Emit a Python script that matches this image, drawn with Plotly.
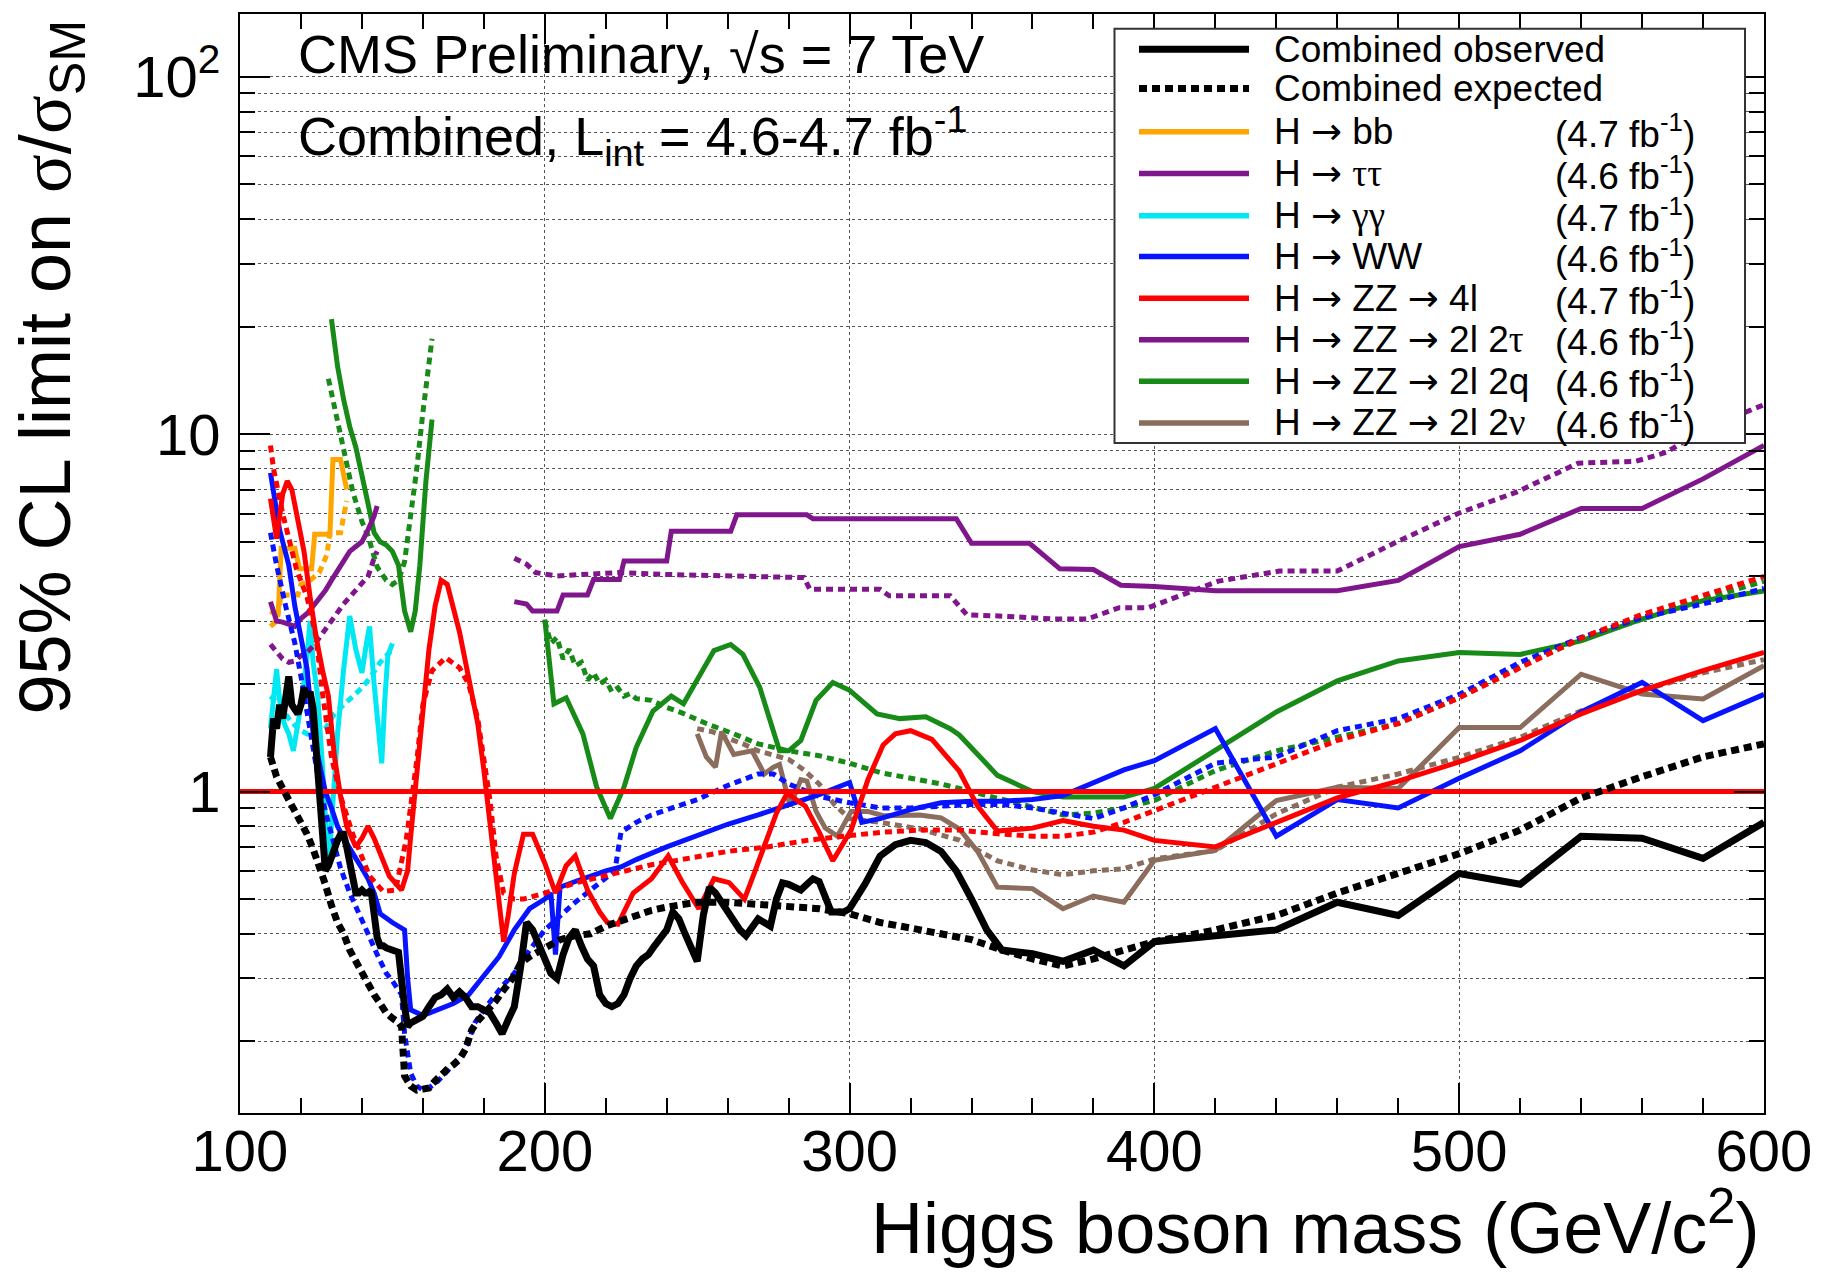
import math
import plotly.graph_objects as go

# ---------------- data ----------------
comb_obs_x = [110, 111, 112, 113, 114, 115, 116, 117, 118, 119, 120, 121, 122, 123, 124, 125, 126, 127, 128, 129,
              130, 131, 132, 133, 134, 135, 136, 137, 138, 139, 140, 141, 142, 143, 144, 145, 146, 147, 148, 150,
              152, 154, 155, 156, 158, 160, 162, 164, 166, 168, 170, 172, 174, 176, 178, 180, 182, 184, 186, 188,
              190, 192, 194, 196, 198, 200, 202, 204, 206, 208, 210, 212, 214, 216, 218, 220, 222, 224, 226, 228,
              230, 232, 234, 236, 238, 240, 242, 244, 246, 248, 250, 252, 254, 256, 258, 260, 262, 264, 266, 268,
              270, 272, 274, 276, 278, 280, 282, 284, 286, 288, 290, 292, 294, 296, 298, 300, 305, 310, 315, 320,
              325, 330, 335, 340, 345, 350, 355, 360, 370, 380, 390, 400, 420, 440, 460, 480, 500, 520, 540, 560,
              580, 600]
comb_obs_y = [1.25, 1.6, 1.5, 1.75, 1.6, 1.8, 2.1, 1.75, 1.7, 1.65, 1.75, 1.95, 1.85, 1.9, 1.7, 1.3, 0.95, 0.75, 0.6, 0.62,
              0.66, 0.7, 0.73, 0.76, 0.76, 0.7, 0.63, 0.57, 0.52, 0.52, 0.53, 0.52, 0.52, 0.53, 0.46, 0.39, 0.37, 0.37, 0.365, 0.36,
              0.355, 0.25, 0.22, 0.225, 0.23, 0.235, 0.25, 0.265, 0.27, 0.28, 0.265, 0.275, 0.265, 0.25, 0.25, 0.245, 0.24, 0.225, 0.21, 0.23,
              0.25, 0.32, 0.43, 0.41, 0.37, 0.34, 0.31, 0.3, 0.35, 0.39, 0.41, 0.37, 0.34, 0.325, 0.27, 0.255, 0.25, 0.255, 0.27, 0.3,
              0.325, 0.34, 0.35, 0.37, 0.39, 0.41, 0.46, 0.44, 0.4, 0.37, 0.335, 0.45, 0.54, 0.52, 0.49, 0.47, 0.44, 0.41, 0.395, 0.42,
              0.44, 0.43, 0.42, 0.5, 0.555, 0.55, 0.54, 0.53, 0.55, 0.57, 0.56, 0.5, 0.46, 0.46, 0.46, 0.47, 0.55, 0.66, 0.71, 0.73,
              0.72, 0.68, 0.6, 0.5, 0.41, 0.36, 0.355, 0.352, 0.335, 0.36, 0.325, 0.38, 0.395, 0.41, 0.49, 0.45, 0.59, 0.55, 0.75, 0.74,
              0.65, 0.82]

comb_exp_x = [110, 112, 114, 116, 118, 120, 122, 124, 126, 128, 130, 132, 134, 136, 138, 140, 142, 144, 146, 148,
              150, 152, 153, 154, 156, 158, 160, 162, 164, 166, 168, 170, 172, 174, 176, 178, 180, 182, 184, 186,
              188, 190, 192, 195, 200, 205, 210, 215, 220, 225, 230, 235, 240, 250, 260, 270, 280, 290, 300, 310,
              320, 330, 340, 350, 360, 370, 380, 390, 400, 420, 440, 460, 480, 500, 520, 540, 560, 580, 600]
comb_exp_y = [1.25, 1.1, 1.02, 0.95, 0.88, 0.82, 0.76, 0.69, 0.62, 0.55, 0.48, 0.43, 0.4, 0.36, 0.335, 0.31, 0.29, 0.27, 0.255, 0.24,
              0.232, 0.226, 0.22, 0.16, 0.15, 0.146, 0.147, 0.148, 0.155, 0.162, 0.167, 0.172, 0.178, 0.19, 0.215, 0.228, 0.237, 0.248, 0.26, 0.275,
              0.29, 0.305, 0.33, 0.345, 0.365, 0.385, 0.395, 0.4, 0.42, 0.435, 0.45, 0.465, 0.475, 0.49, 0.49, 0.485, 0.48, 0.47, 0.455, 0.43,
              0.415, 0.4, 0.385, 0.36, 0.34, 0.325, 0.34, 0.36, 0.38, 0.41, 0.45, 0.52, 0.59, 0.67, 0.78, 0.96, 1.1, 1.25, 1.36]

bb_obs_x = [110, 112.5, 113.5, 118, 119.5, 123.5, 124.5, 129.5, 130.5, 133, 135]
bb_obs_y = [3.2, 3.1, 4.8, 4.8, 4.2, 4.2, 5.25, 5.25, 8.5, 8.5, 7.0]
bb_exp_x = [110, 112, 113.5, 119, 120, 123, 126, 128.5, 129.5, 133, 134.5, 135]
bb_exp_y = [2.9, 3.0, 3.55, 3.55, 3.8, 3.9, 4.1, 4.6, 5.3, 5.3, 6.2, 6.5]

tautau_obs_x = [110, 111, 112, 114, 116, 118, 120, 122, 124, 126, 128, 130, 132, 134, 136, 138, 140, 142, 144, 145]
tautau_obs_y = [3.4, 3.15, 3.0, 2.98, 2.95, 2.9, 3.05, 3.15, 3.3, 3.45, 3.65, 3.9, 4.15, 4.45, 4.7, 4.85, 5.0, 5.4, 5.9, 6.3]
tautau_exp_x = [110, 112, 114, 116, 118, 120, 122, 124, 126, 128, 130, 132, 134, 136, 138, 140, 142, 144, 145]
tautau_exp_y = [2.58, 2.45, 2.35, 2.3, 2.32, 2.4, 2.45, 2.55, 2.7, 2.85, 3.0, 3.2, 3.35, 3.5, 3.65, 3.8, 4.0, 4.5, 4.7]

gg_obs_x = [110, 111, 112, 113, 114.5, 116, 117.5, 119, 120.5, 122, 123, 124, 125.5, 127, 128, 129.3, 130.5, 132, 134,
            136, 138, 140, 141.5, 142.5, 144, 146.5, 147.5, 148.5, 150]
gg_obs_y = [1.5, 1.9, 2.2, 1.8, 1.55, 1.45, 1.3, 1.55, 1.85, 2.4, 3.0, 2.3, 1.85, 1.2, 0.85, 0.66, 0.95, 1.45, 2.2,
            3.1, 2.5, 2.15, 2.6, 2.9, 2.0, 1.2, 1.8, 2.4, 2.6]
gg_exp_x = [110, 113, 116, 119, 122, 125, 128, 131, 134, 137, 140, 143, 146, 150]
gg_exp_y = [1.85, 1.75, 1.6, 1.5, 1.45, 1.45, 1.5, 1.65, 1.75, 1.85, 1.95, 2.1, 2.3, 2.5]

ww_obs_x = [110, 113, 116, 118, 120, 122, 124, 126, 128, 130, 132, 134, 136, 138, 140, 142, 144, 146, 150, 154,
            155, 156, 160, 165, 170, 175, 180, 185, 190, 195, 200, 202, 203.5, 205, 210, 215, 220, 225, 230, 240,
            250, 260, 270, 280, 290, 300, 304, 310, 320, 330, 340, 350, 360, 370, 380, 390, 400, 420, 440, 460,
            480, 500, 520, 540, 560, 580, 600]
ww_obs_y = [7.8, 5.4, 4.3, 3.3, 2.7, 2.2, 1.45, 1.2, 1.0, 0.9, 0.8, 0.74, 0.69, 0.65, 0.61, 0.57, 0.52, 0.455, 0.43, 0.41,
            0.3, 0.245, 0.236, 0.245, 0.255, 0.27, 0.305, 0.345, 0.41, 0.47, 0.5, 0.52, 0.35, 0.54, 0.56, 0.58, 0.6, 0.615, 0.645, 0.7,
            0.75, 0.81, 0.86, 0.92, 0.98, 1.06, 0.82, 0.84, 0.89, 0.93, 0.94, 0.94, 0.95, 0.975, 1.06, 1.15, 1.22, 1.5, 0.75, 0.95,
            0.9, 1.09, 1.3, 1.67, 2.02, 1.58, 1.87]
ww_exp_x = [110, 112, 115, 118, 120, 122, 124, 126, 128, 130, 133, 136, 139, 142, 145, 148, 150, 152, 153, 154,
            155, 156, 158, 160, 162, 165, 168, 170, 173, 175, 177, 180, 183, 186, 190, 195, 200, 205, 210, 215,
            220, 223, 225, 230, 235, 240, 250, 260, 270, 275, 280, 290, 300, 310, 320, 330, 340, 350, 360, 370,
            380, 390, 400, 420, 440, 460, 480, 500, 520, 540, 560, 580, 600]
ww_exp_y = [5.3, 4.3, 3.3, 2.6, 2.1, 1.65, 1.3, 1.05, 0.88, 0.75, 0.61, 0.52, 0.46, 0.4, 0.35, 0.31, 0.295, 0.28, 0.27, 0.21,
            0.18, 0.163, 0.15, 0.146, 0.148, 0.155, 0.165, 0.172, 0.185, 0.2, 0.225, 0.245, 0.265, 0.285, 0.31, 0.36, 0.41, 0.45, 0.49, 0.53,
            0.57, 0.6, 0.77, 0.82, 0.86, 0.89, 0.95, 1.04, 1.12, 1.12, 1.05, 0.97, 0.93, 0.9, 0.9, 0.91, 0.92, 0.92, 0.9, 0.87,
            0.84, 0.9, 0.98, 1.2, 1.25, 1.48, 1.6, 1.87, 2.3, 2.7, 3.07, 3.35, 3.7]

zz4l_obs_x = [110, 112, 114, 115.5, 117, 119, 121, 123, 125, 127, 129, 131, 133, 135, 138, 140, 142, 144, 146, 149,
              153, 155, 156, 158, 160, 162, 164, 166, 168, 170, 172, 174, 176, 178, 180, 182, 184, 186.5, 188, 190,
              193, 196, 200, 203.5, 207, 210, 214, 218, 220.5, 224, 229, 235, 240.5, 245, 250.5, 255.5, 260.5, 265.5, 269, 273,
              276, 279.5, 285.5, 290, 294.5, 300.5, 306, 311, 315, 320, 327, 336, 342, 348.5, 360, 370, 380, 390, 400, 420,
              440, 460, 480, 500, 520, 540, 560, 580, 600]
zz4l_obs_y = [6.6, 5.1, 6.8, 7.4, 7.0, 5.8, 4.7, 3.5, 2.7, 2.2, 1.85, 1.25, 0.97, 0.8, 0.7, 0.74, 0.8, 0.74, 0.67, 0.58,
              0.53, 0.6, 0.75, 1.15, 1.75, 2.5, 3.3, 3.9, 3.8, 3.3, 2.8, 2.3, 1.9, 1.55, 1.15, 0.82, 0.6, 0.38, 0.45, 0.59,
              0.76, 0.76, 0.63, 0.52, 0.62, 0.66, 0.53, 0.46, 0.43, 0.425, 0.52, 0.57, 0.66, 0.56, 0.47, 0.57, 0.556, 0.5, 0.6, 0.74,
              0.87, 0.99, 0.91, 0.77, 0.64, 0.78, 1.08, 1.35, 1.45, 1.48, 1.4, 1.14, 0.91, 0.775, 0.79, 0.83, 0.8, 0.78, 0.73, 0.7,
              0.82, 0.96, 1.07, 1.21, 1.39, 1.65, 1.92, 2.18, 2.45]
zz4l_exp_x = [110, 111, 114, 118.5, 122, 125, 127, 130, 133, 137, 142.5, 147, 151, 154.5, 158, 160, 163, 167.5, 172, 175,
              178, 180, 182, 184, 186.5, 190, 193, 200, 210, 223, 235, 248, 260, 273, 286, 298, 311, 323, 336, 350,
              360, 370, 380, 390, 400, 420, 440, 460, 480, 500, 520, 540, 560, 580, 600]
zz4l_exp_y = [9.3, 8.0, 6.0, 4.2, 3.5, 2.7, 1.9, 1.25, 0.97, 0.76, 0.58, 0.525, 0.53, 0.73, 1.22, 1.75, 2.18, 2.37, 2.22, 2.0,
              1.6, 1.25, 0.95, 0.66, 0.52, 0.5, 0.5, 0.52, 0.555, 0.59, 0.624, 0.652, 0.68, 0.7, 0.73, 0.75, 0.77, 0.78, 0.78, 0.76,
              0.75, 0.75, 0.77, 0.82, 0.885, 1.03, 1.195, 1.39, 1.55, 1.83, 2.22, 2.69, 3.13, 3.55, 4.0]

zz2l2tau_obs_x = [190, 194, 196, 204, 206, 214, 216, 224.5, 226, 240, 241.5, 261, 263, 286, 288, 335, 340, 359, 369, 380,
                  389, 400, 420, 460, 480, 500, 520, 540, 560, 580, 600]
zz2l2tau_obs_y = [3.4, 3.35, 3.2, 3.2, 3.55, 3.55, 3.92, 3.92, 4.42, 4.42, 5.35, 5.35, 5.95, 5.95, 5.8, 5.8, 4.95, 4.95, 4.2, 4.18,
                  3.78, 3.75, 3.65, 3.65, 3.9, 4.85, 5.25, 6.2, 6.2, 7.5, 9.3]
zz2l2tau_exp_x = [190, 194, 197, 204, 212, 224, 240, 262, 285, 287, 310, 313, 333, 338.5, 349, 367, 378, 388.5, 398, 421,
                  441, 460, 480, 500, 519, 539, 558, 568, 580, 600]
zz2l2tau_exp_y = [4.5, 4.33, 4.1, 4.01, 4.05, 4.1, 4.05, 4.01, 3.97, 3.68, 3.68, 3.53, 3.53, 3.12, 3.1, 3.04, 3.04, 3.27, 3.27, 3.88,
                  4.14, 4.14, 5.02, 6.02, 6.9, 8.3, 8.4, 8.9, 10.3, 12.1]

zz2l2q_lo_obs_x = [130, 132, 134, 136, 138, 140, 142, 144, 146, 148, 150, 152, 154, 156, 157.5, 159, 161, 163]
zz2l2q_lo_obs_y = [21, 15.5, 12.5, 10.5, 9.2, 7.8, 6.4, 5.3, 5.0, 4.9, 4.7, 4.3, 3.2, 2.8, 3.2, 4.3, 7.4, 11]
zz2l2q_lo_exp_x = [129, 131, 134, 137, 140, 142, 145, 148, 150, 152, 154, 156, 158, 160, 162, 163]
zz2l2q_lo_exp_y = [14.3, 11.8, 9.0, 6.9, 5.7, 5.2, 4.25, 3.9, 3.8, 3.9, 4.4, 5.8, 8.0, 11.5, 15.5, 18.5]
zz2l2q_hi_obs_x = [200, 203, 207, 212.5, 217, 221.5, 226, 230, 235.5, 241.5, 245.5, 251, 255.5, 261, 265, 270.5, 277, 280,
                   284, 289, 294.5, 300, 309, 316.5, 325, 333, 336, 348.5, 360, 370, 380, 390, 400, 420, 440, 460, 480,
                   500, 520, 540, 560, 580, 600]
zz2l2q_hi_obs_y = [3.03, 1.76, 1.83, 1.45, 1.03, 0.84, 1.03, 1.33, 1.68, 1.85, 1.76, 2.13, 2.48, 2.58, 2.42, 1.96, 1.30, 1.30,
                   1.39, 1.8, 2.02, 1.92, 1.65, 1.6, 1.62, 1.5, 1.44, 1.11, 1.0, 0.965, 0.965, 0.965, 1.02, 1.3, 1.67, 2.04, 2.32,
                   2.45, 2.42, 2.64, 3.04, 3.42, 3.64]
zz2l2q_hi_exp_x = [200, 202, 204, 206, 208, 210, 212, 214, 216, 218, 220, 222, 224, 226, 228, 230, 235, 240, 245, 253,
                   262, 270, 280, 290, 300, 310, 320, 330, 340, 350, 360, 370, 380, 390, 400, 420, 440, 460, 480, 500,
                   520, 540, 560, 580, 600]
zz2l2q_hi_exp_y = [3.0, 2.6, 2.7, 2.35, 2.5, 2.25, 2.3, 2.05, 2.15, 2.0, 2.05, 1.9, 1.95, 1.85, 1.88, 1.82, 1.8, 1.72, 1.66, 1.55,
                   1.45, 1.36, 1.3, 1.26, 1.2, 1.13, 1.09, 1.05, 1.0, 0.95, 0.9, 0.86, 0.87, 0.9, 0.944, 1.145, 1.3, 1.42, 1.55, 1.83,
                   2.25, 2.67, 3.04, 3.45, 3.88]

zz2l2nu_obs_x = [250, 253, 256, 258, 262, 265, 268, 272, 275, 277, 280.5, 284, 286, 289, 292, 296, 300.5, 306, 311, 323,
                 330, 336, 342, 348.5, 360, 370, 380, 390, 400, 420, 440, 460, 480, 500, 520, 540, 560, 580, 600]
zz2l2nu_obs_y = [1.45, 1.25, 1.17, 1.47, 1.27, 1.28, 1.3, 1.12, 1.17, 1.19, 0.91, 1.08, 1.07, 0.88, 0.79, 0.75, 0.88, 0.88, 0.856, 0.86,
                 0.844, 0.786, 0.68, 0.54, 0.535, 0.47, 0.51, 0.49, 0.642, 0.684, 0.944, 1.028, 1.02, 1.51, 1.51, 2.13, 1.875, 1.815, 2.25]
zz2l2nu_exp_x = [250, 255, 260, 265, 270, 275, 280, 285, 290, 295, 300, 310, 323, 336, 348.5, 360, 370, 380, 390, 400,
                 420, 440, 460, 480, 500, 520, 540, 560, 580, 600]
zz2l2nu_exp_y = [1.5, 1.47, 1.41, 1.36, 1.3, 1.26, 1.23, 1.15, 1.05, 0.92, 0.84, 0.82, 0.786, 0.731, 0.64, 0.603, 0.585, 0.6, 0.608, 0.648,
                 0.684, 0.866, 1.028, 1.12, 1.247, 1.418, 1.683, 1.915, 2.15, 2.34]

sm_line_x = [100, 600]
sm_line_y = [1, 1]

x_tick_vals = [100, 200, 300, 400, 500, 600]
x_minor_vals = [v for v in range(120, 600, 20) if v % 100 != 0]
y_tick_vals = [1, 10, 100]
y_tick_text = ["1", "10", "10<sup>2</sup>"]
y_minor_vals = [m * d for d in (0.1, 1, 10) for m in range(2, 10)] + [100]

GR = "<span style='font-family:Liberation Serif'>%s</span>"
AR = " <span style='font-family:DejaVu Sans'>→</span> "
legend_labels = ["Combined observed", "Combined expected",
                 "H" + AR + "bb", "H" + AR + GR % "ττ", "H" + AR + GR % "γγ", "H" + AR + "WW",
                 "H" + AR + "ZZ" + AR + "4l", "H" + AR + "ZZ" + AR + "2l 2" + GR % "τ",
                 "H" + AR + "ZZ" + AR + "2l 2q", "H" + AR + "ZZ" + AR + "2l 2" + GR % "ν"]
legend_lumi = ["", "", "4.7", "4.6", "4.7", "4.6", "4.7", "4.6", "4.6", "4.6"]

# ---------------- styling ----------------
FONT = "Liberation Sans, Arial, Helvetica, sans-serif"
C_BLACK = "#000000"
C_ORANGE = "#FFA500"
C_PURPLE = "#80168C"
C_CYAN = "#00E8F4"
C_BLUE = "#0814FF"
C_RED = "#FF0000"
C_GREEN = "#178A17"
C_BROWN = "#8B6D5D"
DOT = "7px,5px"
BDOT = "8px,5px"
W = 5

W_FIG, H_FIG = 1835, 1275
L, R, T, B = 240, 71, 12, 162
PW, PH = W_FIG - L - R, H_FIG - T - B


def px(xp):
    return (xp - L) / PW


def py(yp):
    return (H_FIG - B - yp) / PH


fig = go.Figure()


def add(x, y, color, width=W, dash=None):
    fig.add_trace(go.Scatter(x=x, y=y, mode="lines", showlegend=False, hoverinfo="skip",
                             line=dict(color=color, width=width, dash=dash or "solid")))


add(zz2l2tau_exp_x, zz2l2tau_exp_y, C_PURPLE, dash=DOT)
add(zz2l2tau_obs_x, zz2l2tau_obs_y, C_PURPLE)
add(zz2l2q_lo_exp_x, zz2l2q_lo_exp_y, C_GREEN, dash=DOT)
add(zz2l2q_lo_obs_x, zz2l2q_lo_obs_y, C_GREEN)
add(zz2l2q_hi_exp_x, zz2l2q_hi_exp_y, C_GREEN, dash=DOT)
add(zz2l2q_hi_obs_x, zz2l2q_hi_obs_y, C_GREEN)
add(zz2l2nu_exp_x, zz2l2nu_exp_y, C_BROWN, dash=DOT)
add(zz2l2nu_obs_x, zz2l2nu_obs_y, C_BROWN)
add(gg_exp_x, gg_exp_y, C_CYAN, dash=DOT)
add(gg_obs_x, gg_obs_y, C_CYAN)
add(bb_exp_x, bb_exp_y, C_ORANGE, dash=DOT)
add(bb_obs_x, bb_obs_y, C_ORANGE)
add(tautau_exp_x, tautau_exp_y, C_PURPLE, dash=DOT)
add(tautau_obs_x, tautau_obs_y, C_PURPLE)
add(ww_exp_x, ww_exp_y, C_BLUE, dash=DOT)
add(ww_obs_x, ww_obs_y, C_BLUE)
add(zz4l_exp_x, zz4l_exp_y, C_RED, dash=DOT)
add(zz4l_obs_x, zz4l_obs_y, C_RED)
add(sm_line_x, sm_line_y, C_RED, width=5)
add(comb_exp_x, comb_exp_y, C_BLACK, width=7, dash=BDOT)
add(comb_obs_x, comb_obs_y, C_BLACK, width=7)

grid = dict(showgrid=True, gridcolor="#555555", griddash="dot", gridwidth=1)
fig.update_xaxes(range=[100, 600], tickmode="array", tickvals=x_tick_vals, ticks="inside", ticklen=30,
                 tickwidth=2, tickcolor="black", showline=True, linewidth=2, linecolor="black",
                 mirror="allticks", zeroline=False, ticklabelstandoff=-14,
                 tickfont=dict(family=FONT, size=58, color="black"),
                 minor=dict(tickmode="array", tickvals=x_minor_vals, ticks="inside", ticklen=15,
                            tickwidth=2, tickcolor="black", showgrid=False),
                 **grid)
fig.update_yaxes(type="log", range=[math.log10(0.126), math.log10(150)], tickmode="array",
                 tickvals=y_tick_vals, ticktext=y_tick_text, ticks="inside", ticklen=30, tickwidth=2,
                 tickcolor="black", showline=True, linewidth=2, linecolor="black", mirror="allticks",
                 zeroline=False, ticklabelstandoff=6, tickfont=dict(family=FONT, size=58, color="black"),
                 minor=dict(tickmode="array", tickvals=y_minor_vals, ticks="inside", ticklen=15,
                            tickwidth=2, tickcolor="black", showgrid=True, gridcolor="#555555",
                            griddash="dot", gridwidth=1),
                 **grid)

shapes = []
# white box behind the CMS label (covers grid lines only)
shapes.append(dict(type="rect", xref="paper", yref="paper", x0=px(241), x1=px(1035), y0=py(168), y1=py(13),
                   fillcolor="white", line=dict(width=0), layer="between"))
# legend box
shapes.append(dict(type="rect", xref="paper", yref="paper", x0=px(1114.5), x1=px(1745), y0=py(441.7), y1=py(26.7),
                   fillcolor="white", line=dict(color="#333333", width=2), layer="above"))
row_y = [47.3, 86.7, 130, 171.7, 214, 255, 296.7, 338.3, 380, 421.7]
leg_styles = [(C_BLACK, 7, "solid"), (C_BLACK, 7, BDOT), (C_ORANGE, 5.5, "solid"), (C_PURPLE, 5.5, "solid"),
              (C_CYAN, 5.5, "solid"), (C_BLUE, 5.5, "solid"), (C_RED, 5.5, "solid"), (C_PURPLE, 5.5, "solid"),
              (C_GREEN, 5.5, "solid"), (C_BROWN, 5.5, "solid")]
annotations = []
for i, (lab, lumi) in enumerate(zip(legend_labels, legend_lumi)):
    col, wd, ds = leg_styles[i]
    shapes.append(dict(type="line", xref="paper", yref="paper", x0=px(1139), x1=px(1249), y0=py(row_y[i]),
                       y1=py(row_y[i]), line=dict(color=col, width=wd, dash=ds), layer="above"))
    annotations.append(dict(xref="paper", yref="paper", x=px(1272), y=py(row_y[i]), text=lab, showarrow=False,
                            xanchor="left", yanchor="middle", font=dict(family=FONT, size=37, color="black")))
    if lumi:
        annotations.append(dict(xref="paper", yref="paper", x=px(1697), y=py(row_y[i]),
                                text="(" + lumi + " fb<sup>-1</sup>)", showarrow=False,
                                xanchor="right", yanchor="middle", font=dict(family=FONT, size=37, color="black")))

annotations.append(dict(xref="paper", yref="paper", x=px(296), y=py(52), text="CMS Preliminary, √s = 7 TeV",
                        showarrow=False, xanchor="left", yanchor="middle",
                        font=dict(family=FONT, size=54, color="black")))
annotations.append(dict(xref="paper", yref="paper", x=px(296), y=py(134),
                        text="Combined, L<sub>int</sub> = 4.6-4.7 fb<sup>-1</sup>",
                        showarrow=False, xanchor="left", yanchor="middle",
                        font=dict(family=FONT, size=54, color="black")))
annotations.append(dict(xref="paper", yref="paper", x=px(1761), y=py(1223),
                        text="Higgs boson mass (GeV/c<sup>2</sup>)", showarrow=False,
                        xanchor="right", yanchor="middle", font=dict(family=FONT, size=72, color="black")))
annotations.append(dict(xref="paper", yref="paper", x=px(50), y=py(16),
                        text="95% CL limit on " + GR % "σ" + "/" + GR % "σ" + "<sub>SM</sub>", showarrow=False,
                        textangle=-90, xanchor="center", yanchor="top",
                        font=dict(family=FONT, size=72, color="black")))

fig.update_layout(width=W_FIG, height=H_FIG, margin=dict(l=L, r=R, t=T, b=B),
                  paper_bgcolor="white", plot_bgcolor="white", shapes=shapes, annotations=annotations,
                  font=dict(family=FONT, color="black"), showlegend=False)

fig.write_html("out.html", config={"displayModeBar": False},
               post_script="document.body.style.margin='0';")
